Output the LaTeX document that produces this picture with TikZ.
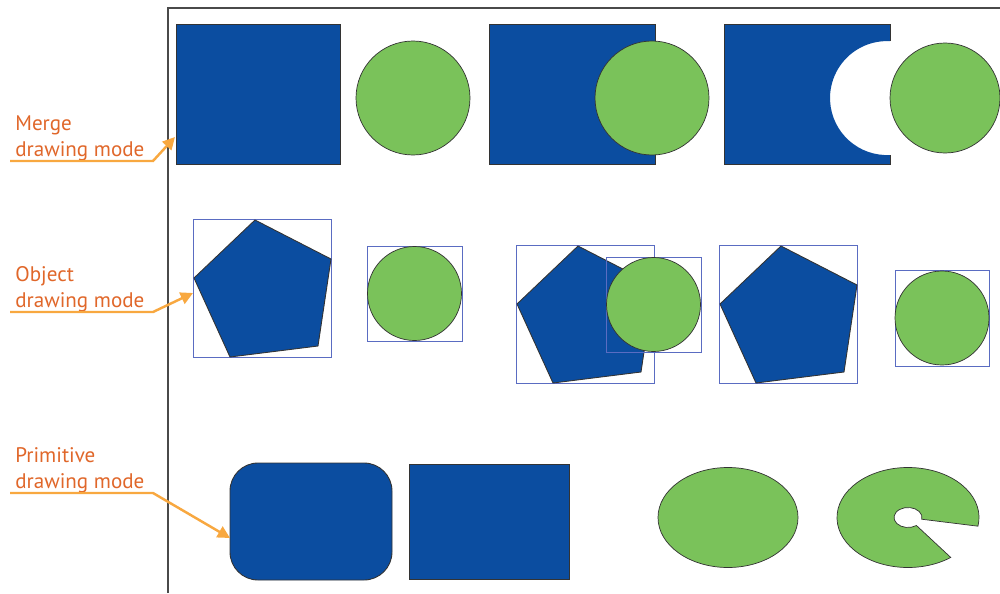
\documentclass[tikz,border=0pt]{standalone}
\usepackage{fontspec}
\newfontfamily\labelfont{PT Sans}
\usetikzlibrary{arrows.meta, calc}
\definecolor{shapeBlue}{HTML}{0B4DA0}
\definecolor{shapeGreen}{HTML}{7AC25A}
\definecolor{boxBlue}{HTML}{5A6CC2}
\definecolor{labelOrange}{HTML}{E0672A}
\definecolor{calloutOrange}{HTML}{F8A840}
\definecolor{frameGray}{HTML}{4A4A4A}

\begin{document}
\begin{tikzpicture}[x=0.02cm, y=0.02cm,
    blueshape/.style={fill=shapeBlue, draw=black!80, line width=0.5pt},
    greenshape/.style={fill=shapeGreen, draw=black!80, line width=0.4pt},
    selbox/.style={draw=boxBlue, line width=0.5pt},
    modelabel/.style={labelOrange, font=\labelfont\fontsize{12}{14.8}\selectfont,
      align=left, anchor=south west, inner sep=0pt},
    callout/.style={calloutOrange, line width=1.4pt, -{Triangle[length=7pt,width=7pt]}}]
  \useasboundingbox (0,0) rectangle (1000,593);
  \draw[frameGray, line width=0.8pt] (168,0) -- (168,585) -- (1000,585);

  % merge drawing mode
  \draw[blueshape] (176,429) rectangle (340,569);
  \draw[greenshape] (413,495) circle[radius=57];
  \draw[blueshape] (489,429) rectangle (655,569);
  \draw[greenshape] (652,495) circle[radius=57];
  \fill[shapeBlue] (724,429) -- (890,429) -- (890,438)
    arc[start angle=273, end angle=87, radius=57] -- (890,569) -- (724,569) -- cycle;
  \draw[black!80, line width=0.5pt] (890,438) -- (890,429) -- (724,429) -- (724,569) -- (890,569) -- (890,552);
  \draw[greenshape] (945,495) circle[radius=55];
  \coordinate (mergeTip) at (175,456);

  % object drawing mode
  \foreach \bx/\by in {193/236, 516/210, 719/210}{
    \draw[selbox] (\bx,\by) rectangle ++(138,138);
    \draw[blueshape] (\bx+62,\by+137) -- (\bx+138,\by+98) -- (\bx+125,\by+11)
      -- (\bx+37,\by) -- (\bx+1,\by+79) -- cycle;
  }
  \draw[selbox] (367,252) rectangle ++(95,95);
  \draw[greenshape] (414.5,299.5) circle[radius=47];
  \draw[selbox] (606,241) rectangle ++(95,95);
  \draw[greenshape] (653.5,288.5) circle[radius=47];
  \draw[selbox] (895,227) rectangle ++(94,96);
  \draw[greenshape] (942,275) circle[radius=47];
  \coordinate (objectTip) at (193,300);

  % primitive drawing mode
  \draw[blueshape, rounded corners=0.56cm] (230,13) rectangle (392,130);
  \draw[blueshape] (409,14) rectangle (569,129);
  \draw[greenshape] (728,75.5) ellipse[x radius=70, y radius=50];
  \coordinate (pac) at (908,75.5);
  \draw[greenshape] (pac) ++(-10:71 and 50) arc[start angle=-10, end angle=307, x radius=71, y radius=50]
    -- ($(pac)+(307:14 and 10)$) arc[start angle=307, end angle=-10, x radius=14, y radius=10] -- cycle;
  \coordinate (primTip) at (230,55);

  % labels
  \node[modelabel] (mergeLbl) at (15,432) {Merge\\drawing mode};
  \node[modelabel] (objectLbl) at (15,281) {Object\\drawing mode};
  \node[modelabel] (primLbl) at (15,100) {Primitive\\drawing mode};
  \draw[callout] ($(mergeLbl.south west)+(-5,0)$) -- ++(143,0) -- (mergeTip);
  \draw[callout] ($(objectLbl.south west)+(-5,0)$) -- ++(143,0) -- (objectTip);
  \draw[callout] ($(primLbl.south west)+(-5,0)$) -- ++(143,0) -- (primTip);
\end{tikzpicture}
\end{document}
